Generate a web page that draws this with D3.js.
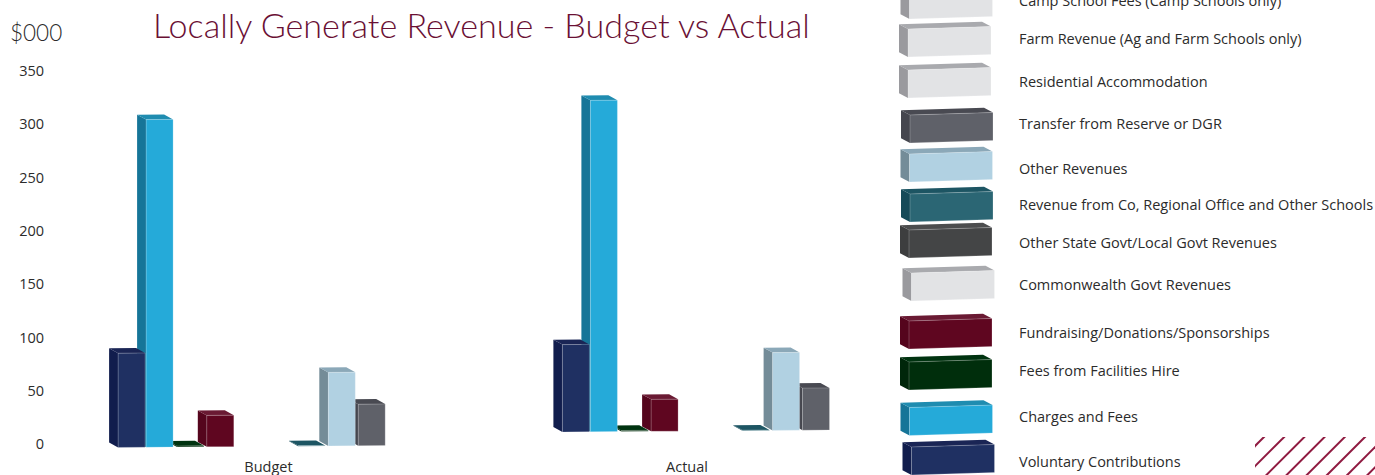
<!DOCTYPE html>
<html>
<head>
<meta charset="utf-8">
<script src="https://cdn.jsdelivr.net/npm/d3@7/dist/d3.min.js"></script>
<style>
html, body { margin: 0; padding: 0; background: #fff; overflow: hidden; }
svg { display: block; }
text { font-family: "Open Sans", sans-serif; fill: #2b2b2b; }
</style>
</head>
<body>
<div id="chart"></div>
<script>
const width = 1375, height = 475;

// data
const groups = ['Budget', 'Actual'];
const categories = [
    'Voluntary Contributions', 'Charges and Fees', 'Fees from Facilities Hire',
    'Fundraising/Donations/Sponsorships', 'Commonwealth Govt Revenues',
    'Other State Govt/Local Govt Revenues', 'Revenue from Co, Regional Office and Other Schools',
    'Other Revenues', 'Transfer from Reserve or DGR', 'Residential Accommodation',
    'Farm Revenue (Ag and Farm Schools only)', 'Camp School Fees (Camp Schools only)'
];
const budgetValues = [88.5, 307.5, 1, 29.5, null, null, 0.5, 69, 39, null, null, null];
const actualValues = [82, 311, 1, 30, null, null, 0.5, 73, 39.5, null, null, null];
const yTicks = [0, 50, 100, 150, 200, 250, 300, 350];

// colours per category: front, side, top
const frontColors = ['#1f3062', '#25aad9', '#002e0c', '#5f0620', '#e2e3e5', '#444546', '#2b6674', '#b1d1e2', '#5f6169', '#e2e3e5', '#e2e3e5', '#e2e3e5'];
const sideColors = ['#111d4d', '#167598', '#00260a', '#55051d', '#9a9a9e', '#3d3e3f', '#164a58', '#748c98', '#45464e', '#9a9a9e', '#9a9a9e', '#9a9a9e'];
const topColors = ['#1a2555', '#1f8cb0', '#003310', '#6a1a33', '#a9aaae', '#4c4d4e', '#1d5563', '#8ba8b8', '#494a52', '#a9aaae', '#a9aaae', '#a9aaae'];

// legend layout, the rows are not evenly spaced in the original
const legendLabelY = [462, 417, 371, 333, 285, 243, 205, 169, 124, 82, 39, 1];
const legendBoxTop = [447, 407.5, 362, 321, 273, 230, 194, 154, 115, 70, 29, -9];
const legendBoxLeft = [911.5, 909.5, 909, 909, 911.5, 909, 910, 909.5, 910, 908, 908, 909.5];
const legendBoxHeight = 28;
const legendBoxWidth = 83;

// the bars are not quite evenly spaced either
const barNudge = [1.2, -1, -0.3, -0.7, 0, 0, 0, 0, -0.3, 0, 0, 0];

const depthX = 9, depthY = 5;
const labelSize = '14.5px';

const svg = d3.select('#chart').append('svg')
    .attr('width', width).attr('height', height);

const y = d3.scaleLinear().domain([0, 350]).range([444, 71]);

// bars in a group sit on a band, the groups are shifted like the tilted floor of the 3d chart
const barX = d3.scaleBand().domain(categories).range([116.9, 116.9 + 30.2 * categories.length]);
const barWidth = 27;
const groupShift = { Budget: { dx: 0, dy: 3.5 }, Actual: { dx: 444.3, dy: -12 } };
const groupValues = { Budget: budgetValues, Actual: actualValues };

function drawBox(g, x, top, w, h, i) {
    g.append('path')
        .attr('d', `M${x},${top} l${-depthX},${-depthY} v${h} l${depthX},${depthY} Z`)
        .attr('fill', sideColors[i]);
    g.append('path')
        .attr('d', `M${x},${top} l${-depthX},${-depthY} h${w} l${depthX},${depthY} Z`)
        .attr('fill', topColors[i]);
    g.append('rect')
        .attr('x', x).attr('y', top).attr('width', w).attr('height', h)
        .attr('fill', frontColors[i])
        .attr('stroke', '#fff').attr('stroke-opacity', 0.3).attr('stroke-width', 0.7);
}

// bars, painted right to left so the nearer bar covers its neighbour's side
groups.forEach(name => {
    const shift = groupShift[name];
    const g = svg.append('g')
        .attr('class', 'bars')
        .attr('transform', `translate(${shift.dx},${shift.dy}) translate(0,${y(0) + 118 * 0.0075}) skewY(-0.43) translate(0,${-y(0)})`);
    const rows = groupValues[name]
        .map((v, i) => ({ v: v, i: i }))
        .filter(d => d.v !== null)
        .reverse();
    rows.forEach(d => {
        const top = y(d.v);
        drawBox(g, barX(categories[d.i]) + barNudge[d.i], top, barWidth, y(0) - top, d.i);
    });
});

// y axis
const axis = svg.append('g')
    .attr('transform', 'translate(44,0)')
    .call(d3.axisLeft(y).tickValues(yTicks).tickSize(0).tickPadding(0));
axis.select('.domain').remove();
axis.selectAll('text').style('font-family', '"Open Sans", sans-serif').style('font-size', labelSize).style('fill', '#2b2b2b');

svg.append('text').attr('x', 10).attr('y', 41)
    .style('font-family', 'Lato, sans-serif').style('font-weight', 300).style('font-size', '22.5px')
    .text('$000');

// group labels
const groupLabelX = d3.scalePoint().domain(groups).range([268.5, 687]);
svg.selectAll('.group-label').data(groups).enter().append('text')
    .attr('class', 'group-label')
    .attr('x', d => groupLabelX(d)).attr('y', 472)
    .attr('text-anchor', 'middle')
    .style('font-size', labelSize)
    .text(d => d);

svg.append('text')
    .attr('x', 153).attr('y', 38)
    .style('font-family', 'Lato, sans-serif').style('font-weight', 300).style('font-size', '34.1px')
    .style('fill', '#6a1034')
    .text('Locally Generate Revenue - Budget vs Actual');

// legend
categories.forEach((name, i) => {
    const left = legendBoxLeft[i], top = legendBoxTop[i];
    const g = svg.append('g')
        .attr('transform', `translate(0,${top + left * 0.03}) skewY(-1.72)`);
    drawBox(g, left, 0, legendBoxWidth, legendBoxHeight, i);
    svg.append('text')
        .attr('x', 1019).attr('y', legendLabelY[i]).attr('dy', '0.35em')
        .style('font-size', labelSize)
        .text(name);
});

// corner hatch
const hatchClip = svg.append('defs').append('clipPath').attr('id', 'hatch-clip');
hatchClip.append('rect').attr('x', 1255).attr('y', 437).attr('width', 120).attr('height', 38);
svg.append('g').attr('clip-path', 'url(#hatch-clip)')
    .selectAll('line').data(d3.range(1701, 1845, 20.2)).enter().append('line')
    .attr('x1', d => d - 500).attr('y1', 500)
    .attr('x2', d => d - 400).attr('y2', 400)
    .attr('stroke', '#8f1a40').attr('stroke-width', 2);
</script>
</body>
</html>
